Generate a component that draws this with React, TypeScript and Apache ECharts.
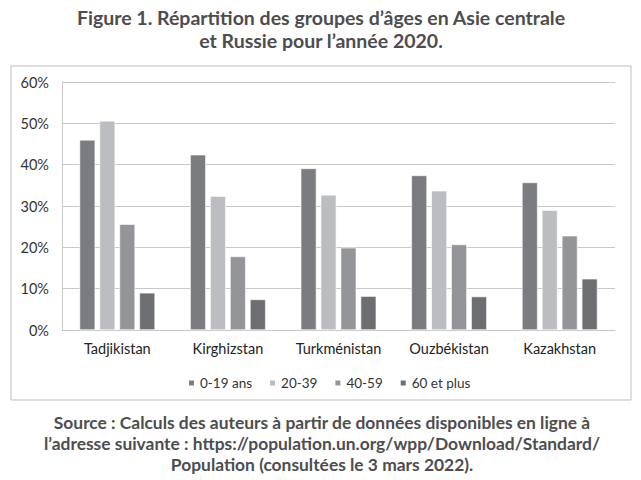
import React, { useEffect, useRef } from "react";
import * as echarts from "echarts";

const categories = ["Tadjikistan", "Kirghizstan", "Turkménistan", "Ouzbékistan", "Kazakhstan"];
const seriesNames = ["0-19 ans", "20-39", "40-59", "60 et plus"];
const age0_19 = [46.0, 42.4, 39.1, 37.4, 35.7];
const age20_39 = [50.6, 32.4, 32.7, 33.7, 29.0];
const age40_59 = [25.6, 17.8, 19.9, 20.7, 22.8];
const age60plus = [9.0, 7.4, 8.2, 8.1, 12.4];
const seriesColors = ["#7b7c80", "#bcbdc1", "#949598", "#6d6e72"];

const titleText = "Figure 1. Répartition des groupes d’âges en Asie centrale\net Russie pour l’année 2020.";
const sourceText =
  "Source : Calculs des auteurs à partir de données disponibles en ligne à\nl’adresse suivante : https://population.un.org/wpp/Download/Standard/\nPopulation (consultées le 3 mars 2022).";

const FONT = "Lato, 'Open Sans', sans-serif";

export default function App() {
  const ref = useRef<HTMLDivElement>(null);
  useEffect(() => {
    if (!ref.current) return;
    const chart = echarts.init(ref.current, undefined, { renderer: "svg" });
    const values = [age0_19, age20_39, age40_59, age60plus];
    chart.setOption({
      animation: false,
      backgroundColor: "#ffffff",
      textStyle: { fontFamily: FONT },
      grid: { left: 62, right: 26, top: 82, bottom: 150, containLabel: false },
      legend: {
        data: seriesNames,
        top: 371,
        left: 182,
        icon: "rect",
        itemWidth: 7,
        itemHeight: 7,
        itemGap: 16,
        textStyle: { fontSize: 13.5, color: "#333", fontFamily: FONT },
      },
      xAxis: {
        type: "category",
        data: categories,
        axisLine: { show: true, lineStyle: { color: "#c8c8c8", width: 1 } },
        axisTick: { show: false },
        axisLabel: { fontSize: 14.5, color: "#222", margin: 11, interval: 0, fontFamily: FONT },
      },
      yAxis: {
        type: "value",
        min: 0,
        max: 60,
        interval: 10,
        axisLine: { show: true, lineStyle: { color: "#c8c8c8", width: 1 } },
        axisTick: { show: false },
        axisLabel: { formatter: "{value}%", fontSize: 14.5, color: "#333", margin: 13, fontFamily: FONT },
        splitLine: { show: true, lineStyle: { color: "#c8c8c8", width: 1 } },
      },
      series: seriesNames.map((name, i) => ({
        name,
        type: "bar",
        data: values[i],
        barWidth: "14.2%",
        barGap: "27%",
        itemStyle: { color: seriesColors[i], borderColor: "#ffffff", borderWidth: 0.6 },
      })),
      graphic: [
        {
          type: "rect",
          shape: { x: 11, y: 66, width: 620, height: 334 },
          style: { fill: "none", stroke: "#bdbdbd", lineWidth: 1 },
          silent: true,
          z: -1,
        },
        {
          type: "text",
          x: 321,
          y: 6,
          style: {
            text: titleText,
            fill: "#4d4d4f",
            font: `bold 19.5px ${FONT}`,
            textAlign: "center",
            lineHeight: 23,
          },
        },
        {
          type: "text",
          x: 322,
          y: 412,
          style: {
            text: sourceText,
            fill: "#4d4d4f",
            font: `bold 17.4px ${FONT}`,
            textAlign: "center",
            lineHeight: 21,
          },
        },
      ],
    });
    return () => chart.dispose();
  }, []);
  return <div ref={ref} style={{ position: "fixed", left: 0, top: 0, width: 641, height: 480 }} />;
}
